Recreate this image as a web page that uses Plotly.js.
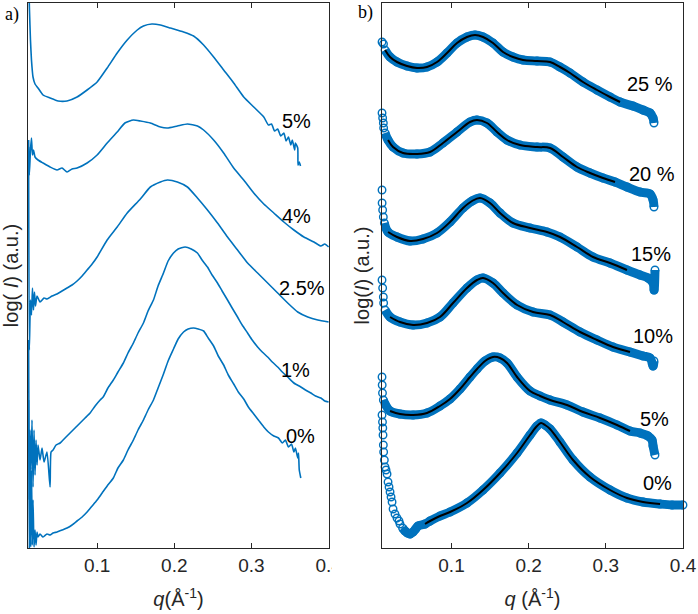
<!DOCTYPE html>
<html><head><meta charset="utf-8">
<script src="https://cdn.plot.ly/plotly-3.0.1.min.js"></script>
<style>html,body{margin:0;padding:0;background:#fff}#chart{width:698px;height:614px}</style>
</head><body><div id="chart"></div>
<script>
// ---------- Panel a) : raw SAXS curves (q in 1/Å, log(I) offset, a.u.) ----------
const qA5 = [0.0112,0.0123,0.0136,0.0149,0.0169,0.0195,0.0234,0.0299,0.039,0.0494,0.061,0.074,0.087,0.100,0.113,0.126,0.139,0.152,0.160,0.171,0.182,0.195,0.212,0.225,0.238,0.251,0.264,0.277,0.290,0.303,0.316,0.322,0.326,0.330,0.334,0.338,0.342,0.345,0.348,0.351,0.353,0.356,0.357,0.360,0.3604,0.362,0.3636];
const iA5 = [5.68,5.38,5.08,4.88,4.71,4.64,4.60,4.53,4.50,4.47,4.47,4.51,4.58,4.66,4.80,4.95,5.08,5.18,5.22,5.24,5.23,5.20,5.16,5.12,5.03,4.91,4.78,4.65,4.51,4.41,4.31,4.23,4.24,4.17,4.19,4.12,4.15,4.07,4.11,4.03,4.08,3.98,4.05,4.00,3.83,3.86,3.82];

const qA4 = [0.0112,0.0121,0.0136,0.0149,0.0162,0.0175,0.0195,0.0234,0.0299,0.039,0.048,0.0545,0.061,0.0675,0.074,0.087,0.100,0.113,0.126,0.136,0.147,0.156,0.169,0.182,0.191,0.204,0.217,0.230,0.238,0.251,0.264,0.277,0.290,0.303,0.316,0.329,0.342,0.355,0.368,0.381,0.390,0.395,0.400];
const iA4 = [4.08,3.73,3.98,4.10,3.93,3.98,3.91,3.88,3.85,3.81,3.78,3.80,3.76,3.79,3.80,3.85,3.93,4.05,4.16,4.25,4.28,4.27,4.25,4.21,4.20,4.22,4.24,4.22,4.18,4.08,3.95,3.80,3.68,3.55,3.44,3.35,3.26,3.18,3.11,3.06,3.02,3.04,3.01];

const qA25 = [0.0112,0.0121,0.0136,0.0149,0.0162,0.0175,0.0188,0.0201,0.0221,0.026,0.0312,0.035,0.0416,0.048,0.0545,0.061,0.0675,0.074,0.0805,0.087,0.0935,0.100,0.113,0.126,0.139,0.156,0.169,0.182,0.191,0.204,0.217,0.230,0.243,0.256,0.269,0.282,0.295,0.308,0.321,0.334,0.347,0.360,0.373,0.386,0.400];
const iA25 = [4.01,1.98,2.48,2.33,2.60,2.38,2.56,2.42,2.52,2.46,2.50,2.49,2.52,2.54,2.57,2.60,2.63,2.67,2.72,2.78,2.84,2.91,3.08,3.21,3.35,3.49,3.61,3.66,3.68,3.66,3.61,3.50,3.38,3.25,3.11,2.98,2.85,2.75,2.65,2.55,2.45,2.36,2.31,2.28,2.26];

const qA1 = [0.0112,0.0121,0.013,0.0143,0.0156,0.0169,0.0182,0.0195,0.0208,0.0221,0.0234,0.026,0.0286,0.0312,0.035,0.039,0.0403,0.0429,0.0468,0.052,0.0584,0.0649,0.0714,0.0779,0.0844,0.0909,0.0974,0.1039,0.1078,0.114,0.121,0.127,0.134,0.140,0.147,0.153,0.160,0.166,0.173,0.179,0.186,0.192,0.199,0.205,0.214,0.222,0.230,0.236,0.243,0.249,0.256,0.262,0.269,0.275,0.282,0.288,0.295,0.301,0.308,0.314,0.321,0.327,0.334,0.340,0.347,0.355,0.364,0.370,0.377,0.383,0.390,0.395,0.400];
const iA1 = [2.08,0.48,1.18,0.78,1.28,0.61,1.18,0.73,1.08,0.83,1.03,0.88,1.00,0.86,0.96,0.61,0.96,0.98,1.03,1.05,1.10,1.15,1.20,1.25,1.30,1.35,1.42,1.48,1.51,1.60,1.68,1.76,1.85,1.95,2.05,2.15,2.25,2.37,2.48,2.62,2.75,2.87,2.95,2.99,3.01,2.99,2.95,2.88,2.81,2.73,2.65,2.57,2.48,2.40,2.31,2.23,2.15,2.08,2.01,1.96,1.91,1.86,1.81,1.76,1.71,1.65,1.61,1.58,1.55,1.52,1.50,1.47,1.46];

const qA0 = [0.0112,0.0121,0.013,0.0139,0.0149,0.016,0.0169,0.0182,0.0195,0.0208,0.0221,0.0234,0.026,0.0299,0.035,0.039,0.0429,0.048,0.0545,0.061,0.0675,0.074,0.0805,0.087,0.0935,0.100,0.1065,0.113,0.121,0.127,0.134,0.140,0.147,0.153,0.160,0.166,0.173,0.179,0.186,0.192,0.199,0.205,0.212,0.218,0.225,0.231,0.238,0.244,0.251,0.257,0.264,0.270,0.277,0.283,0.290,0.296,0.303,0.309,0.316,0.322,0.329,0.335,0.340,0.344,0.348,0.352,0.355,0.357,0.360,0.361,0.362,0.364];
const iA0 = [1.48,-0.12,0.98,0.01,0.78,0.03,0.48,0.01,0.18,0.03,0.16,0.11,0.14,0.11,0.14,0.13,0.15,0.16,0.18,0.20,0.23,0.27,0.31,0.36,0.42,0.48,0.55,0.62,0.70,0.80,0.88,0.98,1.08,1.18,1.28,1.38,1.48,1.60,1.74,1.87,1.99,2.09,2.16,2.19,2.20,2.19,2.17,2.10,2.02,1.92,1.83,1.73,1.64,1.56,1.49,1.41,1.34,1.28,1.21,1.16,1.12,1.10,1.05,1.08,1.01,1.04,0.96,1.00,0.90,0.95,0.78,0.70];

const labelsA = ['5%','4%','2.5%','1%','0%'];
const labelQA = [0.358,0.358,0.366,0.357,0.364];
const labelIA = [4.27,3.32,2.60,1.78,1.12];

// ---------- Panel b) : data (circles) and fits (black) ----------
const qB25 = [0.0100,0.0119,0.0139,0.0204,0.0294,0.0424,0.0553,0.0683,0.0813,0.0942,0.1072,0.1201,0.1305,0.1409,0.1538,0.1668,0.1797,0.1927,0.2108,0.2277,0.2406,0.2536,0.2704,0.2886,0.3054,0.3184,0.3352,0.3482,0.3573,0.3612,0.3624];
const iB25 = [5.06,5.04,4.98,4.91,4.86,4.82,4.80,4.81,4.86,4.95,5.05,5.11,5.13,5.11,5.05,4.96,4.91,4.88,4.87,4.86,4.81,4.75,4.66,4.58,4.51,4.46,4.42,4.38,4.35,4.30,4.25];

const qB20 = [0.0100,0.0108,0.0117,0.0121,0.0139,0.0178,0.0243,0.0372,0.0553,0.0722,0.0890,0.1072,0.1240,0.1330,0.1460,0.1590,0.1720,0.1888,0.2108,0.2277,0.2445,0.2626,0.2795,0.2963,0.3119,0.3274,0.3443,0.3573,0.3612,0.3624];
const iB20 = [4.35,4.30,4.25,4.20,4.15,4.08,4.01,3.95,3.94,3.96,4.05,4.16,4.26,4.28,4.25,4.16,4.08,4.03,4.01,4.00,3.91,3.81,3.75,3.70,3.66,3.61,3.56,3.54,3.48,3.41];

const qB15 = [0.0100,0.0101,0.0108,0.0117,0.0130,0.0178,0.0294,0.0463,0.0631,0.0813,0.0981,0.1150,0.1267,0.1370,0.1499,0.1629,0.1797,0.2018,0.2238,0.2406,0.2627,0.2834,0.3054,0.3274,0.3443,0.3547,0.3612,0.3625,0.3637];
const iB15 = [3.58,3.45,3.38,3.31,3.25,3.16,3.11,3.07,3.09,3.15,3.26,3.40,3.47,3.50,3.45,3.35,3.25,3.20,3.16,3.11,3.01,2.91,2.85,2.78,2.73,2.70,2.65,2.58,2.78];

const qB10 = [0.0100,0.0108,0.0117,0.0121,0.0139,0.0204,0.0333,0.0502,0.0683,0.0851,0.1020,0.1201,0.1331,0.1409,0.1538,0.1668,0.1850,0.2057,0.2277,0.2445,0.2666,0.2886,0.3093,0.3313,0.3482,0.3573,0.3612,0.3624];
const iB10 = [2.68,2.60,2.51,2.45,2.38,2.31,2.26,2.23,2.25,2.31,2.45,2.60,2.68,2.70,2.65,2.55,2.43,2.36,2.33,2.26,2.16,2.08,2.01,1.96,1.92,1.90,1.82,1.87];

const qB5 = [0.0100,0.0102,0.0106,0.0117,0.0139,0.0204,0.0333,0.0502,0.0683,0.0851,0.0981,0.1111,0.1240,0.1331,0.1435,0.1538,0.1629,0.1720,0.1850,0.2018,0.2148,0.2277,0.2497,0.2704,0.2925,0.3145,0.3313,0.3443,0.3547,0.3599,0.3612,0.3637];
const iB5 = [1.71,1.63,1.55,1.48,1.44,1.37,1.34,1.33,1.35,1.42,1.49,1.59,1.71,1.79,1.87,1.91,1.90,1.85,1.71,1.57,1.52,1.48,1.43,1.36,1.30,1.23,1.17,1.15,1.12,1.08,1.02,0.93];

const qB0 = [0.0100,0.0106,0.0110,0.0113,0.0117,0.0121,0.0130,0.0139,0.0152,0.0165,0.0178,0.0191,0.0204,0.0217,0.0230,0.0243,0.0268,0.0294,0.0320,0.0333,0.0366,0.0398,0.0430,0.0463,0.0502,0.0535,0.0567,0.0657,0.0722,0.0851,0.0981,0.1201,0.1409,0.1629,0.1850,0.2018,0.2108,0.2160,0.2212,0.2277,0.2406,0.2575,0.2795,0.3054,0.3274,0.3482,0.3703,0.3858,0.4000];
const iB0 = [1.33,1.26,1.20,1.13,1.03,0.96,0.88,0.81,0.78,0.74,0.66,0.61,0.56,0.51,0.46,0.39,0.34,0.30,0.27,0.24,0.20,0.17,0.15,0.14,0.16,0.19,0.22,0.24,0.27,0.32,0.36,0.45,0.58,0.75,0.95,1.13,1.22,1.25,1.23,1.19,1.06,0.88,0.71,0.58,0.50,0.46,0.44,0.43,0.43];

// q where the dense band of circles begins, and q range covered by the fit
const bandStartB = [0.0139,0.0139,0.0130,0.0139,0.0117,0.0366];
const fitMinB = [0.0139,0.0178,0.0178,0.0204,0.0204,0.0657];
const fitMaxB = [0.3184,0.3119,0.3274,0.3313,0.3313,0.3703];

const labelsB = ['25 %','20 %','15%','10%','5%','0%'];
const labelQB = [0.3572,0.3602,0.3589,0.3615,0.3628,0.3667];
const labelIB = [4.64,3.74,2.94,2.12,1.29,0.65];

const tickVals = [0.1,0.2,0.3,0.4];
const tickText = ['0.1','0.2','0.3','0.4'];

// ---------- build ----------
const BLUE = '#0072BD';
const AX = '#262626';
const FONT = 'Liberation Sans, Arial, sans-serif';

const seriesA = [[qA5,iA5],[qA4,iA4],[qA25,iA25],[qA1,iA1],[qA0,iA0]];
const seriesB = [[qB25,iB25],[qB20,iB20],[qB15,iB15],[qB10,iB10],[qB5,iB5],[qB0,iB0]];

function pick(q, I, lo, hi) {
  const x = [], y = [];
  for (let k = 0; k < q.length; k++) if (q[k] >= lo && q[k] <= hi) { x.push(q[k]); y.push(I[k]); }
  return {x, y};
}

const traces = [];
seriesA.forEach(([q, I]) => {
  traces.push({x: q, y: I, type: 'scatter', mode: 'lines', xaxis: 'x', yaxis: 'y',
    line: {color: BLUE, width: 1.6, shape: 'spline', smoothing: 0.5}, hoverinfo: 'skip', showlegend: false});
});
seriesB.forEach(([q, I], k) => {
  const b = pick(q, I, bandStartB[k], 1);
  traces.push({x: b.x, y: b.y, type: 'scatter', mode: 'lines', xaxis: 'x2', yaxis: 'y2',
    line: {color: BLUE, width: 9, shape: 'spline', smoothing: 1}, hoverinfo: 'skip', showlegend: false});
  traces.push({x: q, y: I, type: 'scatter', mode: 'markers', xaxis: 'x2', yaxis: 'y2', cliponaxis: false,
    marker: {symbol: 'circle-open', size: 7.5, color: BLUE, line: {width: 1.4, color: BLUE}},
    hoverinfo: 'skip', showlegend: false});
});
seriesB.forEach(([q, I], k) => {
  const f = pick(q, I, fitMinB[k], fitMaxB[k]);
  traces.push({x: f.x, y: f.y, type: 'scatter', mode: 'lines', xaxis: 'x2', yaxis: 'y2',
    line: {color: '#000', width: 2, shape: 'spline', smoothing: 1}, hoverinfo: 'skip', showlegend: false});
});

const xCommon = {
  tickvals: tickVals, ticktext: tickText, ticks: 'inside', ticklen: 5, tickwidth: 1, tickcolor: AX,
  showline: true, linecolor: AX, linewidth: 1, mirror: 'ticks', showgrid: false, zeroline: false,
  tickfont: {family: FONT, size: 19, color: AX}
};
const yCommon = {
  range: [0, 5.45], showticklabels: false, ticks: '', showline: true, linecolor: AX, linewidth: 1,
  mirror: true, showgrid: false, zeroline: false
};

const annotations = [];
labelsA.forEach((t, k) => annotations.push({x: labelQA[k], y: labelIA[k], xref: 'x', yref: 'y', text: t,
  showarrow: false, xanchor: 'center', yanchor: 'middle', font: {family: FONT, size: 20, color: '#000'}}));
labelsB.forEach((t, k) => annotations.push({x: labelQB[k], y: labelIB[k], xref: 'x2', yref: 'y2', text: t,
  showarrow: false, xanchor: 'center', yanchor: 'middle', font: {family: FONT, size: 20, color: '#000'}}));
annotations.push({x: -0.0244, y: 0.9798, xref: 'paper', yref: 'paper', text: 'a)', showarrow: false,
  xanchor: 'center', yanchor: 'middle', font: {family: 'Liberation Serif, Times New Roman, serif', size: 18, color: '#000'}});
annotations.push({x: 0.516, y: 0.9817, xref: 'paper', yref: 'paper', text: 'b)', showarrow: false,
  xanchor: 'center', yanchor: 'middle', font: {family: 'Liberation Serif, Times New Roman, serif', size: 18, color: '#000'}});

const layout = {
  width: 698, height: 614,
  margin: {l: 28, r: 15, t: 3, b: 66},
  paper_bgcolor: '#fff', plot_bgcolor: '#fff',
  showlegend: false,
  xaxis: Object.assign({}, xCommon, {domain: [0, 0.4595], range: [0.0104, 0.4005], anchor: 'y',
    title: {text: '<i>q</i>(Å<sup>-1</sup>)', font: {family: FONT, size: 20, color: AX}, standoff: 17}}),
  yaxis: Object.assign({}, yCommon, {domain: [0, 1], anchor: 'x',
    title: {text: 'log( <i>I</i>) (a.u.)', font: {family: FONT, size: 20, color: AX}, standoff: 4}}),
  xaxis2: Object.assign({}, xCommon, {domain: [0.5405, 1], range: [0.01, 0.4], anchor: 'y2',
    title: {text: '<i>q</i> (Å<sup>-1</sup>)', font: {family: FONT, size: 20, color: AX}, standoff: 17}}),
  yaxis2: Object.assign({}, yCommon, {domain: [0, 1], anchor: 'x2',
    title: {text: 'log(<i>I</i>) (a.u.)', font: {family: FONT, size: 20, color: AX}, standoff: 6}}),
  annotations: annotations,
  shapes: [{type: 'rect', xref: 'paper', yref: 'paper', x0: 0.4634, x1: 0.49, y0: -0.0697, y1: -0.0147,
    fillcolor: '#fff', line: {width: 0}, layer: 'above'}]
};

Plotly.newPlot('chart', traces, layout, {staticPlot: true, displayModeBar: false});
</script></body></html>
